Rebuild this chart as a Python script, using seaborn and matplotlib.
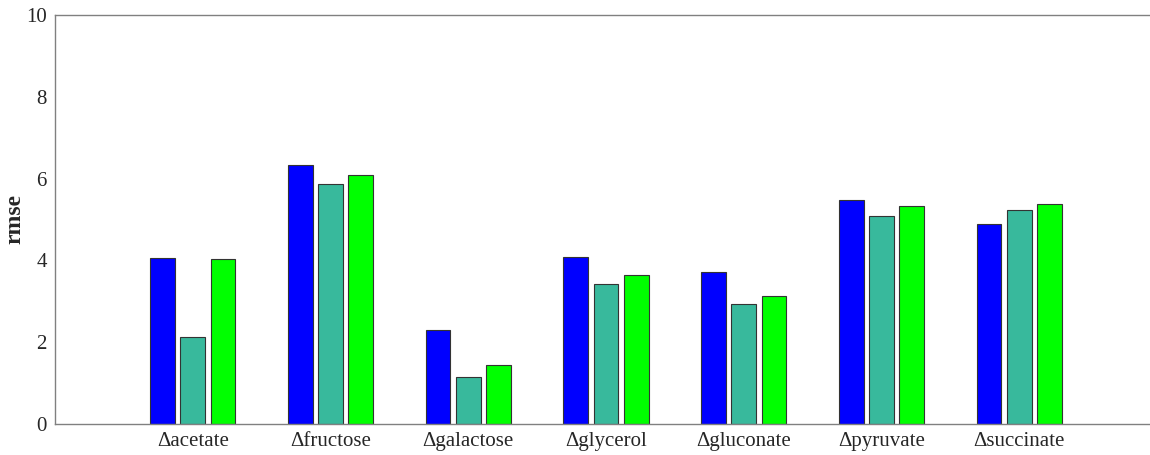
import matplotlib
matplotlib.use("Agg")
import matplotlib.pyplot as plt
import seaborn as sns
import pandas as pd

categories = ["\u0394acetate", "\u0394fructose", "\u0394galactose", "\u0394glycerol",
              "\u0394gluconate", "\u0394pyruvate", "\u0394succinate"]
series_a = [4.06, 6.33, 2.30, 4.08, 3.72, 5.48, 4.89]
series_b = [2.13, 5.87, 1.15, 3.42, 2.93, 5.09, 5.23]
series_c = [4.03, 6.09, 1.44, 3.64, 3.13, 5.33, 5.38]
series_names = ["A", "B", "C"]
colors = ["#0000FF", "#38B99C", "#00FF00"]
y_ticks = [0, 2, 4, 6, 8, 10]

rows = []
for name, vals in zip(series_names, [series_a, series_b, series_c]):
    for cat, v in zip(categories, vals):
        rows.append({"category": cat, "series": name, "rmse": v})
df = pd.DataFrame(rows)

sns.set_theme(style="white")
plt.rcParams["font.family"] = ["Liberation Serif", "DejaVu Serif"]

fig = plt.figure(figsize=(11.5, 4.55), dpi=100)
ax = fig.add_axes([55 / 1150, 1 - 424 / 455, 1102 / 1150, 409 / 455])

sns.barplot(data=df, x="category", y="rmse", hue="series", order=categories,
            hue_order=series_names, palette=colors, width=0.66, gap=0.18,
            edgecolor="#333333", linewidth=0.8, saturation=1, legend=False, ax=ax)

ax.set_xlim(-1, 7)
ax.set_ylim(0, 10)
ax.set_yticks(y_ticks)
ax.set_yticklabels([str(t) for t in y_ticks])
ax.set_xlabel("")
ax.set_ylabel("rmse", fontsize=17, fontweight="bold")
ax.yaxis.set_label_coords(-0.0265, 0.5)
ax.tick_params(axis="both", length=0, labelsize=15, colors="#262626", pad=6)
for side in ["left", "bottom", "top", "right"]:
    ax.spines[side].set_visible(True)
    ax.spines[side].set_color("#808080")
    ax.spines[side].set_linewidth(1.0)

fig.savefig("out.png", dpi=100)
